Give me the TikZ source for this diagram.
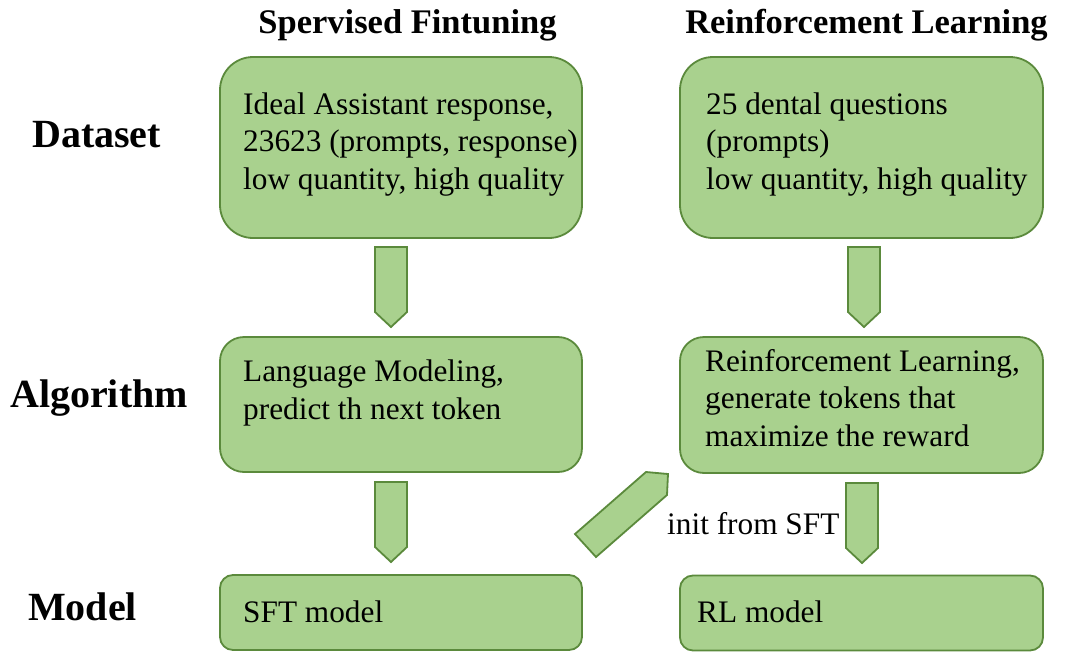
\documentclass[tikz,border=0pt]{standalone}
\usepackage{fontspec}
\setmainfont{Liberation Serif}
\usetikzlibrary{calc}
\definecolor{boxfill}{HTML}{A9D18E}
\definecolor{boxline}{HTML}{5B8A3C}
\begin{document}
\begin{tikzpicture}[x=1pt,y=-1pt,
  box/.style={draw=boxline, fill=boxfill, line width=1.8pt, inner sep=0pt, outer sep=0pt},
  body/.style={font=\fontsize{31.3}{37.5}\selectfont, align=left, anchor=base west, inner sep=0pt},
  head/.style={font=\fontsize{34.5}{40}\selectfont\bfseries, anchor=base, inner sep=0pt},
  rowlab/.style={font=\fontsize{40}{46}\selectfont\bfseries, anchor=base west, inner sep=0pt},
  barrow/.style={draw=boxline, fill=boxfill, line width=1.8pt, line join=miter},
  downarrow/.pic={\path[barrow] (-16,0) -- (16,0) -- (16,65) -- (0,80) -- (-16,65) -- cycle;}]
\useasboundingbox (0,0) rectangle (1080,667);

% boxes
\node[box, rounded corners=33pt, minimum width=362pt, minimum height=181pt] (sd) at (401,147.5) {};
\node[box, rounded corners=33pt, minimum width=363pt, minimum height=181pt] (rd) at (861.5,147.5) {};
\node[box, rounded corners=24pt, minimum width=362pt, minimum height=135pt] (sa) at (401,404.5) {};
\node[box, rounded corners=24pt, minimum width=363pt, minimum height=136pt] (ra) at (861.5,405) {};
\node[box, rounded corners=13pt, minimum width=362pt, minimum height=75pt] (sm) at (401,612.5) {};
\node[box, rounded corners=13pt, minimum width=363pt, minimum height=75pt] (rm) at (861.5,613) {};

% headers
\node[head] (hs) at (407.5,33) {Spervised Fintuning};
\node[head] (hr) at (866.5,33) {Reinforcement Learning};

% row labels
\node[rowlab] (ld) at (32,147) {Dataset};
\node[rowlab] (la) at (10,407) {Algorithm};
\node[rowlab] (lm) at (28,620) {Model};

% box texts (anchor = baseline of last line)
\node[body] (tsd) at (243,189) {Ideal Assistant response,\\23623 (prompts, response)\\low quantity, high quality};
\node[body] (trd) at (706,189) {25 dental questions\\(prompts)\\low quantity, high quality};
\node[body] (tsa) at (243,419) {Language Modeling,\\predict th next token};
\node[body] (tra) at (705,446) {Reinforcement Learning,\\generate tokens that\\maximize the reward};
\node[body] (tsm) at (243,622) {SFT model};
\node[body] (trm) at (697,622) {RL model};

% block arrows
\pic at ($(sd.south)+(-10,9)$) {downarrow};
\pic at ($(rd.south)+(2.5,9)$) {downarrow};
\pic at ($(sa.south)+(-10,10)$) {downarrow};
\pic at ($(ra.south)+(0.5,10)$) {downarrow};
\path[barrow] (575,534) -- (646,472) -- (668,474) -- (667,495) -- (596,557) -- cycle;
\node[body] (init) at (667,534) {init from SFT};
\end{tikzpicture}
\end{document}
